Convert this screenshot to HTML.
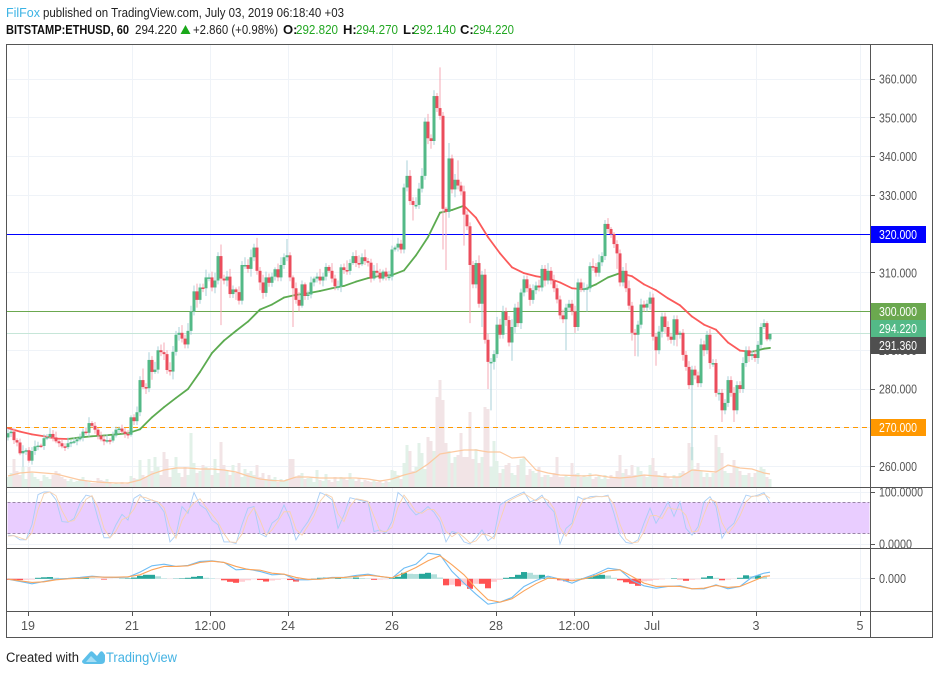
<!DOCTYPE html>
<html lang="en">
<head>
<meta charset="utf-8">
<title>BITSTAMP:ETHUSD, 60 chart</title>
<style>
html,body{margin:0;padding:0;background:#fff;width:939px;height:675px;overflow:hidden}
svg{display:block;font-family:"Liberation Sans",sans-serif}
</style>
</head>
<body>
<svg id="chart" xmlns="http://www.w3.org/2000/svg" width="939" height="675" viewBox="0 0 939 675">
  <defs>
    <clipPath id="main-clip"><rect x="7" y="45" width="863" height="442"/></clipPath>
    <clipPath id="stoch-clip"><rect x="7" y="489" width="863" height="59"/></clipPath>
    <clipPath id="macd-clip"><rect x="7" y="549" width="863" height="62"/></clipPath>
    <clipPath id="stoch-axis-clip"><rect x="871" y="488" width="61" height="60"/></clipPath>
  </defs>
  <rect x="0" y="0" width="939" height="675" fill="#ffffff"/>

  <g font-size="13">
    <text x="6" y="17" fill="#3bb3e4" textLength="34" lengthAdjust="spacingAndGlyphs">FilFox</text>
    <text x="43" y="17" fill="#222" textLength="301" lengthAdjust="spacingAndGlyphs">published on TradingView.com, July 03, 2019 06:18:40 +03</text>
    <text x="6" y="34" fill="#111" font-weight="bold" textLength="123" lengthAdjust="spacingAndGlyphs">BITSTAMP:ETHUSD, 60</text>
    <text x="135" y="34" fill="#222" textLength="42" lengthAdjust="spacingAndGlyphs">294.220</text>
    <polygon points="185.5,25 180.5,34 190.5,34" fill="#1aa81a"/>
    <text x="193" y="34" fill="#222" textLength="85" lengthAdjust="spacingAndGlyphs">+2.860 (+0.98%)</text>
    <text x="283" y="34" fill="#111" font-weight="bold">O:</text>
    <text x="296" y="34" fill="#22a722" textLength="42" lengthAdjust="spacingAndGlyphs">292.820</text>
    <text x="343" y="34" fill="#111" font-weight="bold">H:</text>
    <text x="356" y="34" fill="#22a722" textLength="42" lengthAdjust="spacingAndGlyphs">294.270</text>
    <text x="403" y="34" fill="#111" font-weight="bold">L:</text>
    <text x="413" y="34" fill="#22a722" textLength="43" lengthAdjust="spacingAndGlyphs">292.140</text>
    <text x="460" y="34" fill="#111" font-weight="bold">C:</text>
    <text x="473" y="34" fill="#22a722" textLength="41" lengthAdjust="spacingAndGlyphs">294.220</text>
  </g>

  <g id="grid"></g>
  <g>
    <rect x="7.5" y="502.4" width="862" height="31" fill="#e9cdff"/>
    <line x1="7.5" x2="869.5" y1="502.5" y2="502.5" stroke="#9a86a8" stroke-dasharray="3 2"/>
    <line x1="7.5" x2="869.5" y1="533.5" y2="533.5" stroke="#9a86a8" stroke-dasharray="3 2"/>
  </g>
  <g id="volume" clip-path="url(#main-clip)"></g>
  <g id="volume-ma" clip-path="url(#main-clip)"></g>
  <g id="hlines" clip-path="url(#main-clip)"></g>
  <g id="ma" clip-path="url(#main-clip)"></g>
  <g id="candles" clip-path="url(#main-clip)"></g>
  <g id="stoch" clip-path="url(#stoch-clip)"></g>
  <g id="macd-hist" clip-path="url(#macd-clip)"></g>
  <g id="macd" clip-path="url(#macd-clip)"></g>

  <g fill="none" stroke="#555" stroke-width="1">
    <rect x="6.5" y="44.500" width="926" height="593"/>
    <line x1="870.5" x2="870.5" y1="44" y2="638"/>
    <line x1="6" x2="933" y1="487.5" y2="487.5"/>
    <line x1="6" x2="933" y1="548.5" y2="548.5"/>
    <line x1="6" x2="933" y1="611.5" y2="611.5"/>
  </g>

  <g id="price-axis" font-size="12.5" fill="#555"></g>
  <g id="indicator-axis" font-size="12.5" fill="#555"></g>
  <g id="time-axis" font-size="12.5" fill="#555" text-anchor="middle"></g>
  <g id="price-tags" font-size="12.5" fill="#fff"></g>

  <g>
    <text x="6" y="662" font-size="13.5" fill="#222" textLength="73" lengthAdjust="spacingAndGlyphs">Created with</text>
    <path d="M82 661 L90 652 Q91.500 650.500 93 652 L97 656 L100 652 Q101.500 650.500 103 652 L105 655 L105 660 Q105 664 101 664 L86 664 Q82 664 82 661 Z" fill="#5cbfe9"/>
    <path d="M86 662 L91 656 L97 662 Z" fill="#a6def5"/>
    <text x="106" y="662" font-size="13.5" fill="#45b3e3" textLength="71" lengthAdjust="spacingAndGlyphs">TradingView</text>
  </g>
</svg>

<script>
const firstOpen = 267.5;
const closes = [
268.6,269,266.8,266.2,263.4,264,264.2,261.5,264,265.2,
265.4,265.3,267.3,267.6,268.4,267.5,266.5,266,265.2,265,
266,266.3,266.5,267,267.5,269,268.7,271.2,270.5,269.5,
268,267,266.5,266.8,266.7,268,269.5,269.8,269,268.4,
268.2,272.7,271.7,274,282.3,280.5,280.2,287.5,284.4,285,
290,289.5,289,284.9,284.5,289.6,294,294.5,293,291.5,
295,300,305.2,303,306.2,306,308.8,308.8,306.2,308,
314.3,308.5,308,309,304.5,305.7,305,302.8,312,312,
311,314,316.5,310.5,307.5,304.8,308.8,307.4,309,310.9,
308.8,312,314,314.5,308.8,306,303,301.5,307,304,
304.4,307.5,308.5,309,308,309,311.5,310.5,308.5,306.5,
306.5,311.4,310.7,310.5,312.5,314.3,312.5,312.2,314,313,
312.6,308.5,310.5,310,308.5,310.3,309,309,316,316.5,
317.5,316,332,335,328.5,327.5,327.5,331.7,335,349,
344.7,344,355.6,352.5,350.5,326.5,325.7,339.5,331.5,334,
332.5,331,325,322,312,307,312.5,302,309.5,292.7,
287,287,289,296.6,294,300,297.8,292,296,301,
297,304.9,308.3,306,303,305.5,306.7,306.2,311,308,
310.5,308,306,303.1,299,298,301,302,300,296,
307.5,306,306,306,311.7,311.5,310,312.7,314.3,322.6,
321.3,320,317.4,315,307.5,310.5,306,301.5,294.5,294,
296.6,301.8,301,302,303.6,293.5,290,294.8,298.7,296,
293.5,292.7,298,294,294.5,288.8,285.7,281,285,283.5,
281.5,291.5,290,294,286.7,286.7,279,279,274.5,276.4,
282.3,279,274.5,281,280,286.7,290,288.5,289,288,
291.4,296,297,292.82,294.22];
const wickUp = [
1,.5,.8,.5,1,1.5,.5,.8,1,1.5,
1,.5,1,.8,1.5,1,1.5,.5,1,.8,
1.5,.5,1,.5,1,.8,1,1.5,.5,1,
.5,1,1,1.5,.5,1,.8,.5,1,1,
1,.5,.8,1.5,1,3,1,2,1,2,
1,1.5,2.5,1,2,1.5,1,1.5,2,1,
2,1.5,1.5,2,1,1,2,1,1.5,2,
1,3,1,1.5,2,1,.5,1.5,1,2,
1.5,2,1,2.5,1,2,1.5,1,1,.5,
1.5,2,1,4.2,.8,.5,1.5,2,1,.5,
1,1.5,.5,1,2,1,1,.5,2,1,
1.5,.8,1,2.5,1,1,1.5,2,1,2,
.8,1,1.5,2,1,.5,1,1.5,1,.5,
1.5,1,1,4,1.5,1,2,1.5,2,1,
2,1,1.5,.8,10.5,1,.5,4,1,1.5,
5,1,1.5,1,1,1,.8,2,1,1.5,
1.5,1,1,2,1.5,1.5,1,1,2,1,
1.5,1,1,1,1,1.5,1,1.5,1,1,
2,1,1.5,1,1,1.5,1,1,1,1.5,
1,1,1.5,1,1,2,1,2,1,1,
1.5,.5,.5,1,1,1,2,2,1,1,
1,1.5,1,1,1.5,1,1,1.5,1,1,
1.5,1,1,1,.5,1,1,1.5,1,1,
1,1.5,1,1,1.5,1,1,1,1,1,
1,1,1.5,1,1,1.5,1,1,1,1,
1,1,1,.5,.1];
const wickDown = [
.8,1,1,1,.5,3.5,1,.5,1,1,
1,.5,1,.5,.5,1,.5,1,.5,1,
.5,1,.5,1,.5,1,.5,1,.5,1,
1,.5,1,.5,1,.5,.5,1,.5,1,
1,.5,1,1,1,.5,1.5,1,2,.5,
1,1,1.5,1,1,2,1,1.5,1,1,
1,1,1,2,1,1,2,1,1,1.5,
1,12,1,1.5,1,1,2,1,1,1,
1,2,1,1,2,1.5,1,1,1,1,
1,1,1,1,1,10,1,1.5,.5,1,
1,1,1,1,1,1.5,1,.5,1,1,
1,1.5,1,1,1,.5,1,1,.5,1,
1,1,.5,1,1,.5,1,1,1,.5,
1,1,1,1,1,4,1,1,1,1,
1.5,2,1,1,1,10.5,15,1.5,1,2,
1,1,8,1,15,1,1,1,6,1,
7,12.5,2,1,1,1,1.5,1,4.7,1.5,
1,1.5,1,1,1.5,1,1,1,1,1.5,
1,1,1,1,1,1,8,1,1,1.5,
1,1,1,6,1,1,1,1,1,1,
1,1,1,4,1,1,1,1,2,5.5,
5.6,1,1,1,1.5,1,4,1,1.5,1.5,
1,1,1.5,3,1,1.5,1,1,19.4,1,
1,1,1.5,1,1.5,1,1,2,3,1,
1,1,3,1,1,1,1,1.5,1,1,
1.5,1,.5,.5,.5];
const volumes = [
10,14,28,16,12,20,8,20,14,10,
8,6,12,10,8,12,16,14,10,8,
6,8,5,6,8,10,6,5,4,4,
9,7,6,8,5,3,4,3,5,3,
4,11,9,8,27,12,10,28,16,30,
20,12,35,28,10,18,30,14,10,20,
12,54,24,14,16,22,20,18,12,28,
14,45,22,16,12,22,14,24,10,18,
14,16,12,22,10,14,8,12,8,10,
5,8,6,8,28,28,10,12,14,8,
9,10,5,17,7,6,13,7,5,10,
6,10,9,7,14,8,6,9,5,7,
6,5,7,5,6,4,6,5,17,16,
12,8,24,42,36,16,20,44,34,18,
50,46,36,90,107,87,44,36,24,30,
32,54,30,30,75,28,38,24,30,80,
78,20,46,26,14,18,22,24,14,12,
22,28,30,12,18,16,14,20,10,12,
12,10,14,30,10,10,12,10,24,13,
14,10,12,10,14,8,10,12,8,12,
8,12,10,16,32,14,18,12,22,12,
20,16,12,10,22,29,16,12,10,14,
10,8,12,10,14,16,14,44,40,18,
24,16,10,14,10,14,52,40,34,16,
14,14,27,20,16,12,12,14,10,14,
16,20,18,10,8];
const volumeAverage = [
11,14,15,14,13,10,7,5.5,4.5,4,
4,7,13,17,19,19,18,18,17,15,
11,8,6.5,6,10,10,9,9,9,9,
8,6,8,12,15,23,33,35,37,37,
35,35,29,30,17,14,12,11.5,11,12,
10,9,10,12,11,10,10,17,16,15,
22,19,18,14,13];
const priceAverage = [
269.9,269,268.3,267.8,267.2,267.1,267.5,267.8,268,268.3,
268.6,269.6,272.7,275.3,277.7,280,284.4,289.3,292.5,295,
297.4,300.5,301.8,303.6,304.3,304.7,305.3,306,306.6,307.7,
308.6,309.2,309.4,310.6,314.5,319.2,325.5,326.2,327.3,324.2,
319.2,315,311.4,309.9,309.1,308.6,307.5,306,305.7,307,
308.8,309.9,309.1,307,305.5,303.4,301.6,298.7,296.6,295.3,
292,289.9,289.6,290.4,290.6];
const stochK = [
17,16,8,8,37,95,100,100,85,43,42,49,78,94,91,49,12,12,37,57,
46,88,95,83,85,78,62,4,17,72,59,99,75,67,46,37,4,4,1,37,
69,72,20,14,40,49,75,49,8,27,43,65,99,94,85,30,56,89,86,83,
81,24,27,21,43,99,89,69,56,62,72,61,43,4,24,21,4,0,
12,27,6,15,75,83,89,95,100,81,85,94,74,62,0,30,40,91,85,91,
92,91,94,59,17,3,1,8,40,69,40,59,81,53,81,30,17,33,81,91,
72,11,30,40,69,94,91,94,99,78];
const stochD = [
15,16,12,8,22,66,97,100,93,64,43,45,63,86,93,70,30,12,25,47,
52,67,91,89,84,81,70,33,11,45,65,79,87,71,57,42,20,4,3,19,
53,70,46,17,27,44,62,62,28,17,35,54,82,96,90,58,43,72,87,85,
82,53,25,24,32,71,94,79,62,59,67,66,52,24,14,22,13,2,
6,19,17,10,45,79,86,92,97,90,83,90,84,68,31,15,35,65,88,88,
91,91,92,76,38,10,2,4,24,54,55,49,70,67,67,55,23,25,57,86,
81,41,20,35,54,81,92,92,96,88];
const macdLine = [
-.07,-.53,-1,-.53,-.07,.07,.27,.53,.33,.27,
.33,1.33,2.6,2.93,2.47,2.67,3.47,3.6,3.27,1.8,
1.93,1.47,.8,.93,-.2,-.2,0,.27,.27,.67,
.93,.47,.13,2.13,2.93,5.13,4.8,1.47,-.87,
-3.07,-5.07,-4.67,-3.73,-1.53,-.33,.53,-.07,-.87,.13,
1,2.13,1.8,-.33,-1.4,-1.87,-1.53,-1.4,-2,-2,
-1.2,-2,-1.53,.33,1.13,1.33];
const signalLine = [
-.07,-.4,-.73,-.6,-.2,0,.13,.4,.33,.33,
.4,.8,1.8,2.47,2.47,2.6,3.27,3.53,3.27,2.47,
1.87,1.73,1.13,.93,.27,-.13,-.07,.2,.27,.47,
.73,.47,.2,1.13,2.27,3.6,4.6,2.8,.8,
-1.87,-4.2,-4.67,-4,-2.4,-1,.13,0,-.4,0,
.67,1.6,1.8,.47,-.87,-1.53,-1.47,-1.53,-2,-1.87,
-1.33,-1.73,-1.53,-.53,.47,.6];
const macdHistogram = [
-.2,-.2,-.25,-.2,-.15,.2,.3,.35,.2,.1,.1,.1,.15,.2,.1,-.05,-.15,-.05,0,.05,
.1,.25,.6,.8,.8,.5,.1,-.05,.05,.1,.2,.4,.55,.2,.1,-.05,-.3,-.6,-.8,-.6,
-.3,-.1,-.25,-.55,-.35,-.2,-.05,-.25,-.55,-.2,-.05,.05,.2,.25,.2,.25,.2,.15,.25,.15,
.05,-.2,-.15,-.1,.2,.4,1.2,1,.95,1,1.2,.9,.25,-1.3,-1.2,-1.5,-1.2,-2,-1,-1,
-1.9,-.6,-.2,.2,.35,.8,1.35,1.2,.8,.8,.4,.1,-.3,-.5,-.2,.1,.1,.3,.7,.8,
.65,.2,-.3,-.7,-1,-1.4,-.5,-.4,-.2,-.1,0,.1,-.1,-.4,-.2,-.1,.25,.55,.2,-.3,
-.15,-.05,.2,.7,.5,.65,.4];
const priceTicks = [360,350,340,330,320,310,300,290,280,270,260];
const priceTickLabels = ["360.000","350.000","340.000","330.000","320.000","310.000","300.000","290.000","280.000","270.000","260.000"];
const stochTicks = [100,0];
const stochTickLabels = ["100.0000","0.0000"];
const macdTicks = [0];
const macdTickLabels = ["0.000"];
const timeTickHours = [0,48,84,120,168,216,252,288,336,384];
const timeTickLabels = ["19","21","12:00","24","26","28","12:00","Jul","3","5"];
const levelPrices = [320,300,294.22,270];
const levelColors = ["#0000ff","#6ba84f","#c6e6d8","#ff9800"];
const tagPrices = [320,300,294.22,291.36,270];
const tagLabels = ["320.000","300.000","294.220","291.360","270.000"];
const tagColors = ["#0000ff","#6ba84f","#53b987","#4f4f4f","#ff9800"];

const NS = 'http://www.w3.org/2000/svg';
const xBar = i => 8 + 3 * i;
const xHour = h => 28 + h * 52 / 24;
const yPrice = p => 311.5 + (300 - p) * 3.875;
const yVolume = v => 487 - v;
const yStoch = v => 544 - v * 0.52;
const yMacd = v => 578.8 - v * 5;
const crisp = y => Math.floor(y) + 0.5;
const LAST = closes.length - 1;

function make(tag, parent, attrs) {
  const el = document.createElementNS(NS, tag);
  for (const k in attrs) el.setAttribute(k, attrs[k]);
  parent.appendChild(el);
  return el;
}
function pathFrom(values, step, yFn) {
  return values.map((v, k) => (k ? 'L' : 'M') + xBar(Math.min(k * step, LAST)).toFixed(1) + ' ' + yFn(v).toFixed(2)).join(' ');
}
const $ = id => document.getElementById(id);

/* grid */
priceTicks.forEach(p => {
  const gl = make('line', $('grid'), {x1: 7, x2: 870, y1: crisp(yPrice(p)), y2: crisp(yPrice(p)), stroke: '#eff3f8'});
  
  
});
timeTickHours.forEach(h => {
  const gl = make('line', $('grid'), {x1: crisp(xHour(h)), x2: crisp(xHour(h)), y1: 45, y2: 611, stroke: '#eff3f8'});
  
  
});
stochTicks.forEach(v => {
  const gl = make('line', $('grid'), {x1: 7, x2: 870, y1: crisp(yStoch(v)), y2: crisp(yStoch(v)), stroke: '#eff3f8'});
  
  
});
macdTicks.forEach(v => {
  const gl = make('line', $('grid'), {x1: 7, x2: 870, y1: crisp(yMacd(v)), y2: crisp(yMacd(v)), stroke: '#eff3f8'});
  
  
});

/* volume */
const opens = closes.map((c, i) => i ? closes[i - 1] : firstOpen);
volumes.forEach((v, i) => {
  const up = closes[i] >= opens[i];
  const bar = make('rect', $('volume'), {x: xBar(i) - 1.5, y: yVolume(v), width: 3, height: v, fill: up ? '#e2f1e8' : '#f2e4e6'});
  
  
});
const volLine = make('path', $('volume-ma'), {d: pathFrom(volumeAverage, 4, yVolume), fill: 'none', stroke: '#fcc9a0', 'stroke-width': 1.2});



/* horizontal levels */
levelPrices.forEach((p, i) => {
  const lv = make('line', $('hlines'), {x1: 7, x2: 870, y1: crisp(yPrice(p)), y2: crisp(yPrice(p)), stroke: levelColors[i], 'stroke-width': 1});
  if (p === 270) lv.setAttribute('stroke-dasharray', '5 4');
  
  
});

/* moving average: green while rising, red while falling */
priceAverage.forEach((v, k) => {
  if (k === 0) return;
  const prev = priceAverage[k - 1];
  const seg = make('line', $('ma'), {
    x1: xBar(Math.min((k - 1) * 4, LAST)), y1: yPrice(prev),
    x2: xBar(Math.min(k * 4, LAST)), y2: yPrice(v),
    stroke: v >= prev ? '#5cab50' : '#fb5a5a', 'stroke-width': 1.8, 'stroke-linecap': 'round'
  });
  
  
});

/* candles */
closes.forEach((c, i) => {
  const o = opens[i], up = c >= o, x = xBar(i);
  const top = Math.max(o, c), bot = Math.min(o, c);
  const wick = make('line', $('candles'), {x1: x, x2: x, y1: yPrice(top + wickUp[i]), y2: yPrice(bot - wickDown[i]), stroke: up ? '#a8d2d8' : '#f6a9b4', 'stroke-width': 1});
  
  
  const h = Math.max(1.5, yPrice(bot) - yPrice(top));
  const body = make('rect', $('candles'), {x: x - 1.5, y: yPrice(top), width: 3, height: h, fill: up ? '#53b987' : '#eb4d5c'});
  
  
});

/* stochastic RSI */
const kLine = make('path', $('stoch'), {d: pathFrom(stochK, 2, yStoch), fill: 'none', stroke: '#a9cef6', 'stroke-width': 0.9});


const dLine = make('path', $('stoch'), {d: pathFrom(stochD, 2, yStoch), fill: 'none', stroke: '#f8d2b0', 'stroke-width': 0.9});



/* MACD */
macdHistogram.forEach((v, k) => {
  const prev = k ? macdHistogram[k - 1] : 0;
  const grow = Math.abs(v) >= Math.abs(prev);
  const fill = v >= 0 ? (grow ? '#26a69a' : '#b2dfdb') : (grow ? '#ff5252' : '#ffcdd2');
  const y0 = yMacd(0), y1 = yMacd(v);
  const bar = make('rect', $('macd-hist'), {x: xBar(k * 2) - 3, y: Math.min(y0, y1), width: 6, height: Math.abs(y1 - y0), fill: fill});
  
  
});
const macdPath = make('path', $('macd'), {d: pathFrom(macdLine, 4, yMacd), fill: 'none', stroke: '#6fbdf5', 'stroke-width': 1.1});


const signalPath = make('path', $('macd'), {d: pathFrom(signalLine, 4, yMacd), fill: 'none', stroke: '#fba45a', 'stroke-width': 1.1});



/* price axis */
priceTicks.forEach((p, i) => {
  const t = make('line', $('price-axis'), {x1: 871, x2: 875, y1: crisp(yPrice(p)), y2: crisp(yPrice(p)), stroke: '#555'});
  
  
  const lb = make('text', $('price-axis'), {x: 879, y: yPrice(p) + 4.5, textLength: 38, lengthAdjust: 'spacingAndGlyphs'});
  lb.textContent = priceTickLabels[i];
  
  
});

/* indicator axes */
stochTicks.forEach((v, i) => {
  const t = make('line', $('indicator-axis'), {x1: 871, x2: 875, y1: crisp(yStoch(v)), y2: crisp(yStoch(v)), stroke: '#555'});
  
  
  const lb = make('text', $('indicator-axis'), {x: 879, y: yStoch(v) + 4.6, 'clip-path': 'url(#stoch-axis-clip)', textLength: i ? 33 : 44, lengthAdjust: 'spacingAndGlyphs'});
  lb.textContent = stochTickLabels[i];
  
  
});
macdTicks.forEach((v, i) => {
  const t = make('line', $('indicator-axis'), {x1: 871, x2: 875, y1: crisp(yMacd(v)), y2: crisp(yMacd(v)), stroke: '#555'});
  
  
  const lb = make('text', $('indicator-axis'), {x: 879, y: yMacd(v) + 4.4, textLength: 27, lengthAdjust: 'spacingAndGlyphs'});
  lb.textContent = macdTickLabels[i];
  
  
});

/* time axis */
timeTickHours.forEach((h, i) => {
  const t = make('line', $('time-axis'), {x1: crisp(xHour(h)), x2: crisp(xHour(h)), y1: 612, y2: 616, stroke: '#555'});
  
  
  const lb = make('text', $('time-axis'), {x: xHour(h), y: 630});
  lb.textContent = timeTickLabels[i];
  
  
});

/* price tags */
const tagCentres = [234.5, 311.5, 328.5, 345.5, 427.5];
tagPrices.forEach((p, i) => {
  const box = make('rect', $('price-tags'), {x: 871, y: tagCentres[i] - 8.5, width: 55, height: 17, fill: tagColors[i]});
  
  
  const lb = make('text', $('price-tags'), {x: 879, y: tagCentres[i] + 4.5, textLength: 38, lengthAdjust: 'spacingAndGlyphs'});
  lb.textContent = tagLabels[i];
  
  
});
</script>
</body>
</html>
